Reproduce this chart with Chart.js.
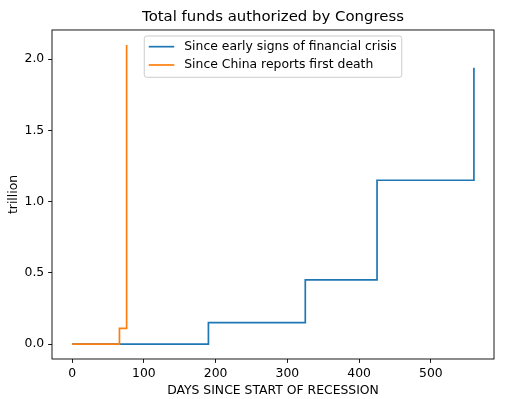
<!DOCTYPE html>
<html><head><meta charset="utf-8">
<script src="https://cdn.jsdelivr.net/npm/chart.js@4"></script>
<style>html,body{margin:0;padding:0;background:#fff}canvas{display:block}</style>
</head><body>
<canvas id="c" width="512" height="399"></canvas>
<script>
const chartTitle = 'Total funds authorized by Congress';
const xLabel = 'DAYS SINCE START OF RECESSION';
const yLabel = 'trillion';
const crisisLabel = 'Since early signs of financial crisis';
const crisisDays = [0, 190, 325, 425, 560];
const crisisFunds = [0, 0.15, 0.45, 1.15, 1.94];
const covidLabel = 'Since China reports first death';
const covidDays = [0, 66, 76];
const covidFunds = [0, 0.11, 2.1];
const xTicks = [0, 100, 200, 300, 400, 500];
const yTicks = [0, 0.5, 1.0, 1.5, 2.0];

const FONT = 'DejaVu Sans';
const FS = 12.4;
const tickFont = {family: FONT, size: FS};
const allX = crisisDays.concat(covidDays), allY = crisisFunds.concat(covidFunds);
const xMinD = Math.min(...allX), xMaxD = Math.max(...allX);
const yMinD = Math.min(...allY), yMaxD = Math.max(...allY);
const xPad = (xMaxD - xMinD) * 0.05, yPad = (yMaxD - yMinD) * 0.05;

const framePlugin = {
  id: 'frame',
  afterDatasetsDraw(chart) {
    const {ctx, chartArea: a} = chart;
    ctx.save();
    ctx.strokeStyle = '#000';
    ctx.lineWidth = 0.9;
    ctx.strokeRect(a.left, a.top, a.right - a.left, a.bottom - a.top);
    ctx.restore();
  }
};

const legendPlugin = {
  id: 'mplLegend',
  afterDraw(chart) {
    const {ctx, chartArea: a} = chart;
    const ds = chart.data.datasets;
    ctx.save();
    ctx.font = FS + 'px "' + FONT + '"';
    const tw = Math.max(...ds.map(d => ctx.measureText(d.label).width));
    const w = 40 + tw + 5, h = 41.3;
    const x0 = (a.left + a.right) / 2 - w / 2, y0 = a.top + 6;
    ctx.beginPath();
    ctx.roundRect(x0, y0, w, h, 2.5);
    ctx.fillStyle = 'rgba(255,255,255,0.8)';
    ctx.fill();
    ctx.strokeStyle = '#cccccc';
    ctx.lineWidth = 1;
    ctx.stroke();
    ds.forEach((d, i) => {
      const cy = y0 + 10.7 + i * 18.3;
      ctx.beginPath();
      ctx.strokeStyle = d.borderColor;
      ctx.lineWidth = 1.7;
      ctx.moveTo(x0 + 4.5, cy);
      ctx.lineTo(x0 + 30, cy);
      ctx.stroke();
      ctx.fillStyle = '#000';
      ctx.textBaseline = 'middle';
      ctx.textAlign = 'left';
      ctx.fillText(d.label, x0 + 40, cy);
    });
    ctx.restore();
  }
};

new Chart(document.getElementById('c'), {
  type: 'line',
  data: {
    datasets: [
      {label: crisisLabel, data: crisisDays.map((x, i) => ({x, y: crisisFunds[i]})),
       borderColor: '#1f77b4', borderWidth: 1.7, stepped: 'before', pointRadius: 0, fill: false, order: 1},
      {label: covidLabel, data: covidDays.map((x, i) => ({x, y: covidFunds[i]})),
       borderColor: '#ff7f0e', borderWidth: 1.7, stepped: 'before', pointRadius: 0, fill: false, order: 0}
    ]
  },
  options: {
    responsive: false,
    animation: false,
    layout: {padding: {top: 0, right: 18, bottom: 0, left: 0}},
    plugins: {
      legend: {display: false},
      tooltip: {enabled: false},
      title: {display: true, text: chartTitle, color: '#000', fullSize: false,
              font: {family: FONT, size: 14.9, weight: 'normal'}, padding: {top: 7.8, bottom: 4.3}}
    },
    scales: {
      x: {
        type: 'linear', min: xMinD - xPad, max: xMaxD + xPad,
        afterBuildTicks: s => { s.ticks = xTicks.map(v => ({value: v})); },
        afterFit: s => { s.height = 40; },
        ticks: {font: tickFont, color: '#000', padding: 3, maxRotation: 0, autoSkip: false,
                callback: v => String(v)},
        grid: {display: true, drawOnChartArea: false, drawTicks: true, tickLength: 3.9, color: '#000', lineWidth: 0.9},
        border: {display: false},
        title: {display: true, text: xLabel, color: '#000', font: tickFont, padding: {top: 0, bottom: 0.6}}
      },
      y: {
        type: 'linear', min: yMinD - yPad, max: yMaxD + yPad,
        afterBuildTicks: s => { s.ticks = yTicks.map(v => ({value: v})); },
        afterFit: s => { s.width = 52; },
        ticks: {font: tickFont, color: '#000', padding: 3.9, autoSkip: false,
                callback: v => Number(v).toFixed(1)},
        grid: {display: true, drawOnChartArea: false, drawTicks: true, tickLength: 3.9, color: '#000', lineWidth: 0.9},
        border: {display: false},
        title: {display: true, text: yLabel, color: '#000', font: tickFont, padding: {top: 6.5, bottom: 0}}
      }
    }
  },
  plugins: [framePlugin, legendPlugin]
});
</script>
</body></html>
